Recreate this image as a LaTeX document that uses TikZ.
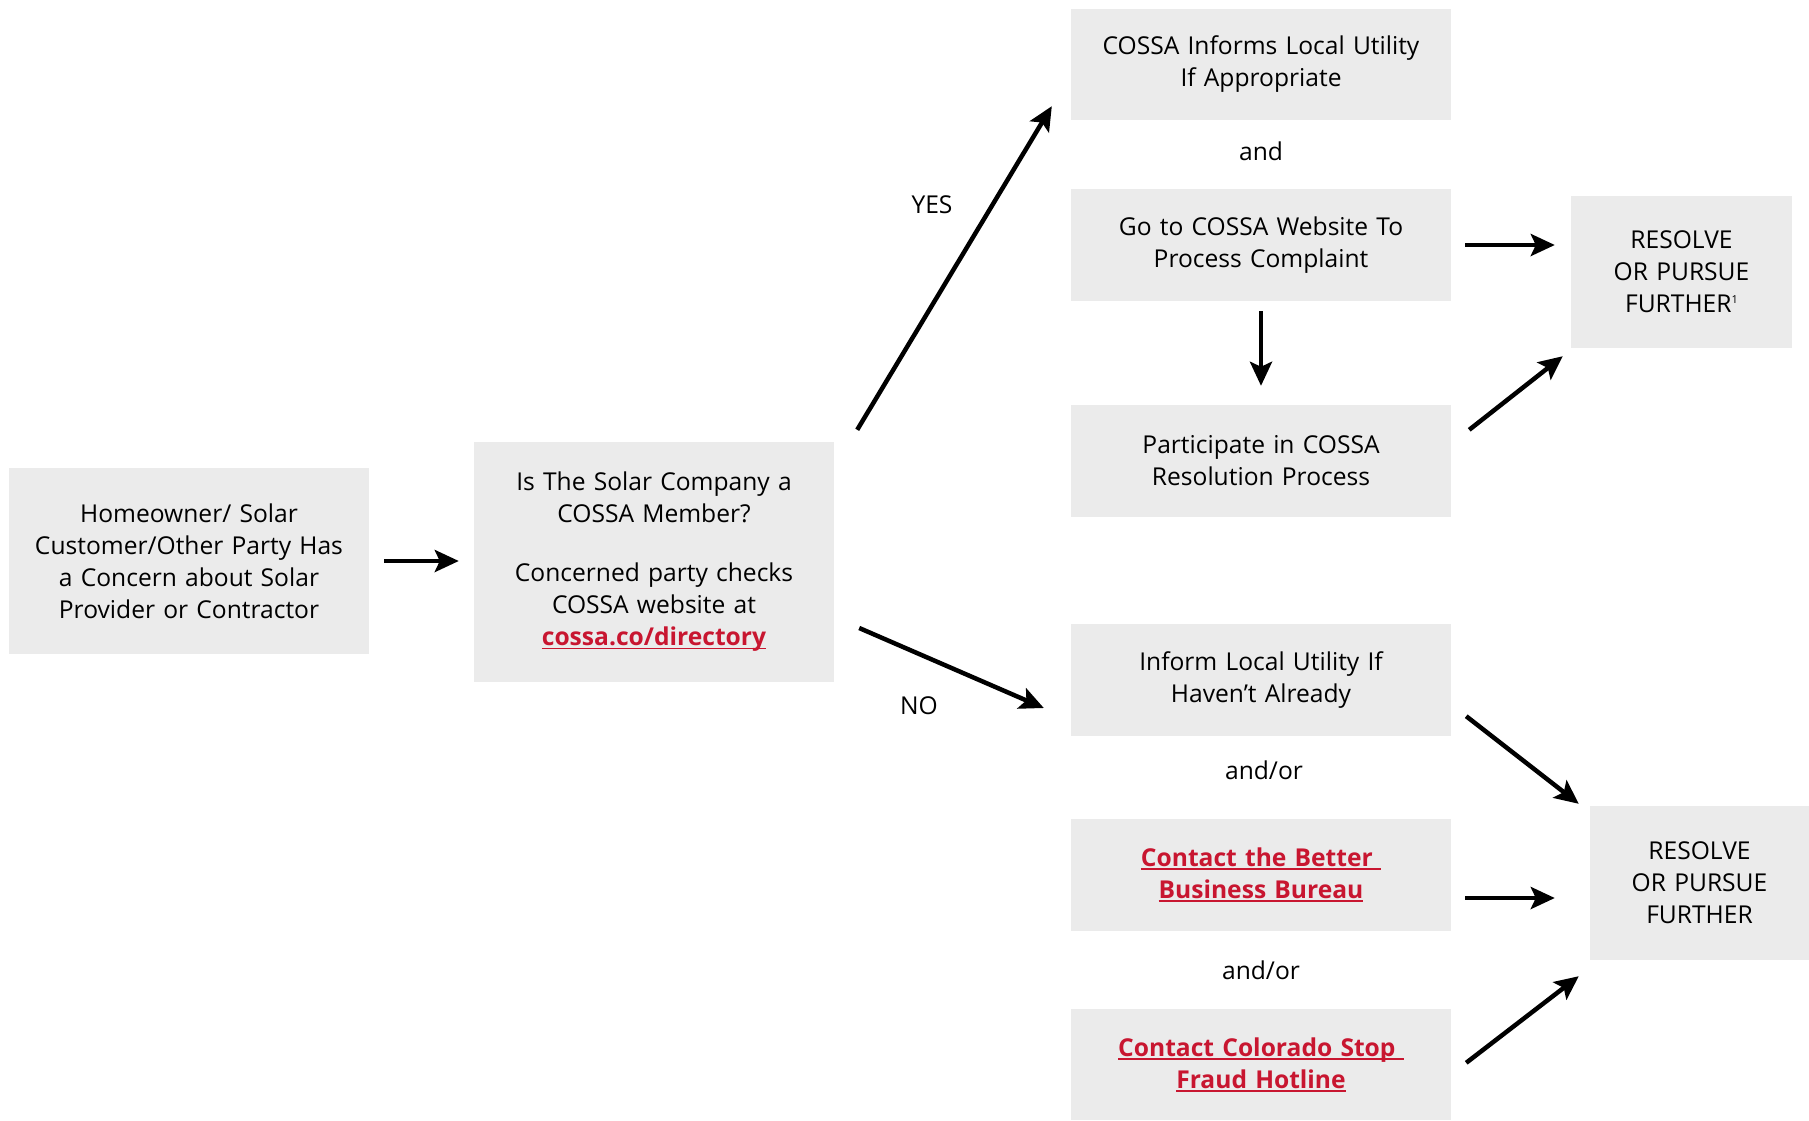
\documentclass[tikz,border=0pt]{standalone}
\usepackage{fontspec}
\setmainfont{Open Sans}
\usetikzlibrary{arrows.meta,calc}
\definecolor{boxgray}{RGB}{235,235,235}
\definecolor{cossared}{RGB}{200,22,48}
\newcommand{\ulred}[1]{{\color{cossared}\bfseries\setbox0=\hbox{#1}\leavevmode\rlap{\rule[-3.5pt]{\wd0}{1.7pt}}\box0}}
\begin{document}
\begin{tikzpicture}[x=1pt,y=-1pt,
  every node/.style={font=\fontsize{24.6}{32}\selectfont, inner sep=0pt, text=black},
  gbox/.style={fill=boxgray, draw=none, align=center, text width=#1},
  gbox/.default=360pt,
  arr/.style={line width=4.5pt, -{Stealth[length=24pt,width=22pt,inset=5pt]}},
  lbl/.style={}
]
\useasboundingbox (0,0) rectangle (1809,1120);

% boxes
\node[gbox=350pt, minimum width=360pt, minimum height=186pt] (b1) at (189,561)
  {Homeowner/ Solar\\ Customer/Other Party Has\\ a Concern about Solar\\ Provider or Contractor};
\node[gbox=350pt, minimum width=360pt, minimum height=240pt] (b2) at (654,562)
  {Is The Solar Company a\\ COSSA Member?\\[27pt] Concerned party checks\\ COSSA website at\\ \ulred{cossa.co/directory}};

\node[gbox=375pt, minimum width=380pt, minimum height=111pt] (inf) at (1261,64.5)
  {COSSA Informs Local Utility\\ If Appropriate};
\node[gbox=375pt, minimum width=380pt, minimum height=112pt] (go) at (1261,245)
  {Go to COSSA Website To\\ Process Complaint};
\node[gbox=375pt, minimum width=380pt, minimum height=112pt] (part) at (1261,461)
  {Participate in COSSA\\ Resolution Process};
\node[gbox=215pt, minimum width=221pt, minimum height=152pt] (r1) at (1681.5,272)
  {RESOLVE\\ OR PURSUE\\ FURTHER\raisebox{9pt}{\fontsize{11}{11}\selectfont 1}};

\node[gbox=375pt, minimum width=380pt, minimum height=112pt] (loc) at (1261,680)
  {Inform Local Utility If\\ Haven’t Already};
\node[gbox=375pt, minimum width=380pt, minimum height=112pt] (bbb) at (1261,875)
  {\ulred{Contact the Better }\\ \ulred{Business Bureau}};
\node[gbox=375pt, minimum width=380pt, minimum height=111pt] (stop) at (1261,1064.5)
  {\ulred{Contact Colorado Stop }\\ \ulred{Fraud Hotline}};
\node[gbox=215pt, minimum width=219pt, minimum height=154pt] (r2) at (1699.5,883)
  {RESOLVE\\ OR PURSUE\\ FURTHER};

% labels
\node[lbl] (yes) at (932,205) {YES};
\node[lbl] (no) at (919,706) {NO};
\node[lbl] (and1) at (1261,151) {and};
\node[lbl] (andor1) at (1264,770) {and/or};
\node[lbl] (andor2) at (1261,970) {and/or};

% arrows
\draw[arr, shorten <=15pt, shorten >=15pt] (b1.east) -- (b2.west |- b1.east);
\draw[arr] ($(b2.north east)+(23,-12)$) -- ($(inf.south west)+(-19,-14)$);
\draw[arr] ($(b2.east)+(25,66)$) -- ($(loc.west)+(-27,28)$);
\draw[arr, shorten <=14pt, shorten >=16pt] (go.east) -- (go.east -| r1.west);
\draw[arr, shorten <=10pt, shorten >=19pt] (go.south) -- (part.north);
\draw[arr] ($(part.north east)+(18,25)$) -- ($(r1.south west)+(-8,8)$);
\draw[arr] ($(loc.south east)+(15,-20)$) -- ($(r2.north west)+(-11,-2)$);
\draw[arr] ($(bbb.east)+(14,23)$) -- ($(r2.west)+(-35,15)$);
\draw[arr] ($(stop.north east)+(15,54)$) -- ($(r2.south west)+(-11,16)$);
\end{tikzpicture}
\end{document}
